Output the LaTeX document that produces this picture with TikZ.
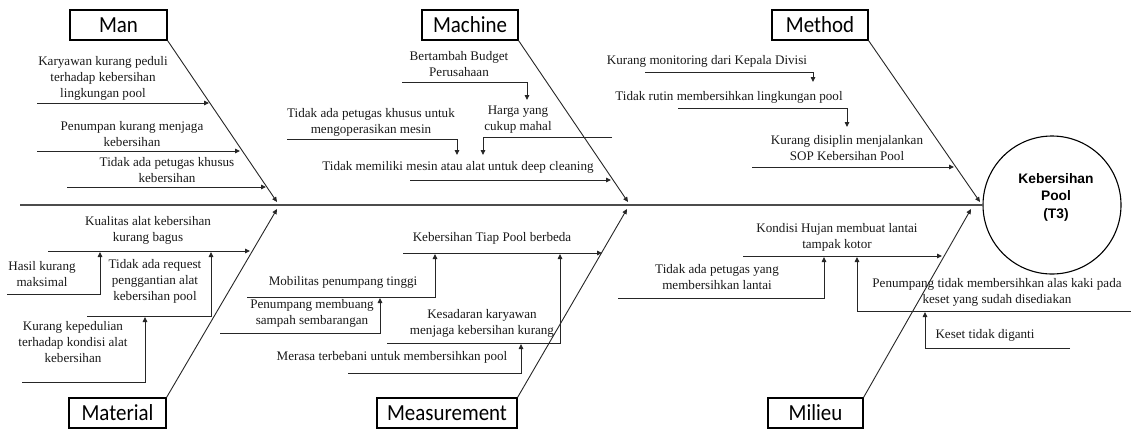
\documentclass[tikz,border=0pt]{standalone}
\usepackage{fontspec}
\setmainfont{Liberation Serif}
\newfontfamily\catfont[FakeStretch=0.91]{Carlito}
\newfontfamily\headfont{Liberation Sans}
\usetikzlibrary{arrows.meta}

\begin{document}
\begin{tikzpicture}[x=1pt,y=-1pt,
  line/.style={line width=0.9pt, draw=black!85},
  arr/.style={line, -{Triangle[length=5pt,width=4.5pt]}},
  catbox/.style={draw, line width=1.1pt, minimum height=30pt, inner sep=0pt,
    font=\catfont\fontsize{23}{23}\selectfont},
  cause/.style={align=center, inner sep=0pt, text=black!90,
    font=\fontsize{13.1}{16}\selectfont},
]
\useasboundingbox (0,0) rectangle (1131,429);

% head of the fish
\node[circle, draw, line width=1.1pt, minimum size=138pt, inner sep=0pt] (head) at (1052,205) {};
\node[align=center, inner sep=0pt, font=\headfont\bfseries\fontsize{13.8}{17.5}\selectfont] (headtxt) at (1056,197) {Kebersihan\\Pool\\(T3)};

% spine
\coordinate (tail) at (20,205);
\draw[line width=1.6pt, draw=black!70] (tail) -- (head.west);

% category boxes
\node[catbox, minimum width=97pt] (man) at (118.5,25) {Man};
\node[catbox, minimum width=96pt] (machine) at (470,25) {Machine};
\node[catbox, minimum width=96pt] (method) at (820,25) {Method};
\node[catbox, minimum width=97pt] (material) at (117.5,413) {Material};
\node[catbox, minimum width=140pt] (measure) at (447,413) {Measurement};
\node[catbox, minimum width=95pt] (milieu) at (815.5,413) {Milieu};

% bones meeting the spine
\coordinate (jman) at (277,202);
\coordinate (jmat) at (277,209);
\coordinate (jmach) at (628,202);
\coordinate (jmeas) at (627,209);
\coordinate (jmeth) at (980,202);
\coordinate (jmil) at (971,209);
\draw[arr] (man.south east) -- (jman);
\draw[arr] (material.north east) -- (jmat);
\draw[arr] (machine.south east) -- (jmach);
\draw[arr] (measure.north east) -- (jmeas);
\draw[arr] (method.south east) -- (jmeth);
\draw[arr] (milieu.north east) -- (jmil);

% ---- Man ----
\node[cause] (m1) at (103,78) {Karyawan kurang peduli\\terhadap kebersihan\\lingkungan pool};
\node[cause] (m2) at (132,134) {Penumpan kurang menjaga\\kebersihan};
\node[cause] (m3) at (167,170) {Tidak ada petugas khusus\\kebersihan};
\coordinate (m1a) at (37,103);  \coordinate (m1b) at (209,103);
\coordinate (m2a) at (37,151);  \coordinate (m2b) at (240,151);
\coordinate (m3a) at (67,187);  \coordinate (m3b) at (266,187);
\draw[arr] (m1a) -- (m1b);
\draw[arr] (m2a) -- (m2b);
\draw[arr] (m3a) -- (m3b);

% ---- Material ----
\node[cause] (t1) at (148,230) {Kualitas alat kebersihan\\kurang bagus};
\node[cause] (t2) at (42,274) {Hasil kurang\\maksimal};
\node[cause] (t3) at (155,281) {Tidak ada request\\penggantian alat\\kebersihan pool};
\node[cause] (t4) at (73,342) {Kurang kepedulian\\terhadap kondisi alat\\kebersihan};
\coordinate (t1a) at (48,251);  \coordinate (t1b) at (250,251);
\coordinate (t2a) at (7,294);   \coordinate (t2b) at (100,252);
\coordinate (t3a) at (87,316);  \coordinate (t3b) at (211,252);
\coordinate (t4a) at (22,382);  \coordinate (t4b) at (145,317);
\draw[arr] (t1a) -- (t1b);
\draw[arr] (t2a) -| (t2b);
\draw[arr] (t3a) -| (t3b);
\draw[arr] (t4a) -| (t4b);

% ---- Machine ----
\node[cause] (c1) at (459,64) {Bertambah Budget\\Perusahaan};
\node[cause] (c2) at (518,120) {Harga yang\\cukup mahal};
\node[cause] (c3) at (371,122) {Tidak ada petugas khusus untuk\\mengoperasikan mesin};
\node[cause] (c4) at (458,167) {Tidak memiliki mesin atau alat untuk deep cleaning};
\coordinate (c1a) at (402,82);  \coordinate (c1b) at (527,100);
\coordinate (c2a) at (612,137); \coordinate (c2b) at (483,155);
\coordinate (c3a) at (287,139); \coordinate (c3b) at (457,155);
\coordinate (c4a) at (410,180); \coordinate (c4b) at (611,180);
\draw[arr] (c1a) -| (c1b);
\draw[arr] (c2a) -| (c2b);
\draw[arr] (c3a) -| (c3b);
\draw[arr] (c4a) -- (c4b);

% ---- Measurement ----
\node[cause] (s1) at (492,238) {Kebersihan Tiap Pool berbeda};
\node[cause] (s2) at (343,282) {Mobilitas penumpang tinggi};
\node[cause] (s3) at (312,313) {Penumpang membuang\\sampah sembarangan};
\node[cause] (s4) at (482,323) {Kesadaran karyawan\\menjaga kebersihan kurang};
\node[cause] (s5) at (392,357) {Merasa terbebani untuk membersihkan pool};
\coordinate (s1a) at (403,253); \coordinate (s1b) at (602,253);
\coordinate (s2a) at (247,297); \coordinate (s2b) at (435,254);
\coordinate (s3a) at (220,333); \coordinate (s3b) at (380,298);
\coordinate (s4a) at (387,343); \coordinate (s4b) at (560,254);
\coordinate (s5a) at (348,373); \coordinate (s5b) at (521,344);
\draw[arr] (s1a) -- (s1b);
\draw[arr] (s2a) -| (s2b);
\draw[arr] (s3a) -| (s3b);
\draw[arr] (s4a) -| (s4b);
\draw[arr] (s5a) -| (s5b);

% ---- Method ----
\node[cause] (d1) at (707,61) {Kurang monitoring dari Kepala Divisi};
\node[cause] (d2) at (729,97) {Tidak rutin membersihkan lingkungan pool};
\node[cause] (d3) at (847,148) {Kurang disiplin menjalankan\\SOP Kebersihan Pool};
\coordinate (d1a) at (645,72);  \coordinate (d1b) at (813,82);
\coordinate (d2a) at (678,108); \coordinate (d2b) at (847,127);
\coordinate (d3a) at (752,167); \coordinate (d3b) at (954,167);
\draw[arr] (d1a) -| (d1b);
\draw[arr] (d2a) -| (d2b);
\draw[arr] (d3a) -- (d3b);

% ---- Milieu ----
\node[cause] (e1) at (837,237) {Kondisi Hujan membuat lantai\\tampak kotor};
\node[cause] (e2) at (717,277) {Tidak ada petugas yang\\membersihkan lantai};
\node[cause] (e3) at (997,292) {Penumpang tidak membersihkan alas kaki pada\\keset yang sudah disediakan};
\node[cause] (e4) at (985,335) {Keset tidak diganti};
\coordinate (e1a) at (743,256);  \coordinate (e1b) at (942,256);
\coordinate (e2a) at (618,298);  \coordinate (e2b) at (824,257);
\coordinate (e3a) at (1131,311); \coordinate (e3b) at (857,257);
\coordinate (e4a) at (1070,348); \coordinate (e4b) at (925,312);
\draw[arr] (e1a) -- (e1b);
\draw[arr] (e2a) -| (e2b);
\draw[arr] (e3a) -| (e3b);
\draw[arr] (e4a) -| (e4b);
\end{tikzpicture}
\end{document}
